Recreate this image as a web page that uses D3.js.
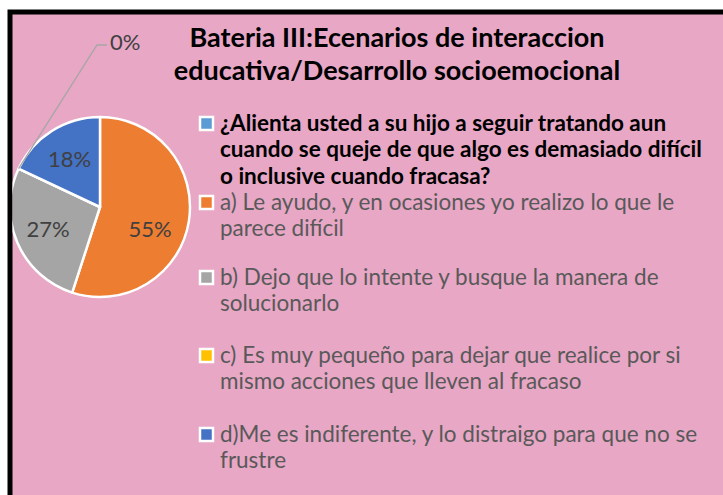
<!DOCTYPE html>
<html>
<head>
<meta charset="utf-8">
<script src="https://cdn.jsdelivr.net/npm/d3@7"></script>
<style>
  body { margin: 0; background: #fff; }
  svg { display: block; }
</style>
</head>
<body>
<div id="chart"></div>
<script>
// data
const titleLines = ["Bateria III:Ecenarios de interaccion", "educativa/Desarrollo socioemocional"];
const seriesName = ["¿Alienta usted a su hijo a seguir tratando aun", "cuando se queje de que algo es demasiado difícil", "o inclusive cuando fracasa?"];
const categories = [
    ["a) Le ayudo, y en ocasiones yo realizo lo que le", "parece difícil"],
    ["b) Dejo que lo intente y busque la manera de", "solucionarlo"],
    ["c) Es muy pequeño para dejar que realice por si", "mismo acciones que lleven al fracaso"],
    ["d)Me es indiferente, y lo distraigo para que no se", "frustre"]
];
const values = [55, 27, 0, 18];
const colors = ["#ED7D31", "#A5A5A5", "#FFC000", "#4472C4"];

const width = 723, height = 495;
const font = "Lato, 'Noto Sans', sans-serif";

const svg = d3.select("#chart").append("svg")
    .attr("width", width)
    .attr("height", height);

// frame: pink plot area with thick black top/left border
svg.append("rect")
    .attr("x", 10).attr("y", 12)
    .attr("width", width).attr("height", height)
    .attr("fill", "#E7A7C5")
    .attr("stroke", "#000")
    .attr("stroke-width", 5);

// title
svg.append("g").selectAll("text")
    .data(titleLines)
    .join("text")
    .attr("x", 397)
    .attr("y", (d, i) => 47 + i * 33)
    .attr("text-anchor", "middle")
    .attr("font-family", font)
    .attr("font-weight", "bold")
    .attr("font-size", 27)
    .attr("fill", "#000")
    .text(d => d);

// pie
const cx = 100, cy = 207, r = 90;
const pie = d3.pie().sort(null).value(d => d)(values);
const arc = d3.arc().innerRadius(0).outerRadius(r);
const labelArc = d3.arc().innerRadius(r * 0.63).outerRadius(r * 0.63);
// Excel nudges the big slice label lower
const labelNudge = [[-6, 13], [0, 0], [0, 0], [0, 0]];

svg.append("clipPath").attr("id", "plotclip")
    .append("rect").attr("x", 12.5).attr("y", 14.5).attr("width", width).attr("height", height);

const gPie = svg.append("g")
    .attr("clip-path", "url(#plotclip)")
    .append("g")
    .attr("transform", `translate(${cx},${cy})`);

gPie.selectAll("path")
    .data(pie)
    .join("path")
    .attr("d", arc)
    .attr("fill", (d, i) => colors[i])
    .attr("stroke", "#fff")
    .attr("stroke-width", 2.5)
    .attr("stroke-linejoin", "round");

// labels inside slices (non-zero)
gPie.selectAll("text.lbl")
    .data(pie.filter(d => d.data > 0))
    .join("text")
    .attr("class", "lbl")
    .attr("transform", d => {
        const c = labelArc.centroid(d);
        const n = labelNudge[d.index];
        return `translate(${c[0] + n[0]},${c[1] + n[1]})`;
    })
    .attr("text-anchor", "middle")
    .attr("dy", "0.35em")
    .attr("font-family", font)
    .attr("font-size", 22)
    .attr("fill", "#404040")
    .text(d => d.data + "%");

// 0% label with leader line
const zero = pie[2];
const zx = cx + r * Math.sin(zero.startAngle), zy = cy - r * Math.cos(zero.startAngle);
svg.append("polyline")
    .attr("points", [[zx, zy], [97, 45], [107, 45]].map(p => p.join(",")).join(" "))
    .attr("fill", "none")
    .attr("stroke", "#A6A6A6")
    .attr("stroke-width", 1.3);
svg.append("text")
    .attr("x", 110).attr("y", 42)
    .attr("dy", "0.35em")
    .attr("font-family", font)
    .attr("font-size", 22)
    .attr("fill", "#404040")
    .text(values[2] + "%");

// legend
const legend = svg.append("g");
const lineH = 26.5;

function legendItem(y0, lines, fill, bold) {
    legend.append("rect")
        .attr("x", 200).attr("y", y0 - 6)
        .attr("width", 13).attr("height", 13)
        .attr("fill", fill)
        .attr("stroke", "#fff")
        .attr("stroke-width", 2.5);
    legend.append("g").selectAll("text")
        .data(lines)
        .join("text")
        .attr("x", 220)
        .attr("y", (d, i) => y0 + i * lineH)
        .attr("dy", "0.35em")
        .attr("font-family", font)
        .attr("font-size", 22.5)
        .attr("font-weight", bold ? "bold" : "normal")
        .attr("fill", bold ? "#000" : "#595959")
        .text(d => d);
}

legendItem(123, seriesName, "#5B9BD5", true);
const legendY = [202, 277, 355, 434];
categories.forEach((c, i) => legendItem(legendY[i], c, colors[i], false));
</script>
</body>
</html>
